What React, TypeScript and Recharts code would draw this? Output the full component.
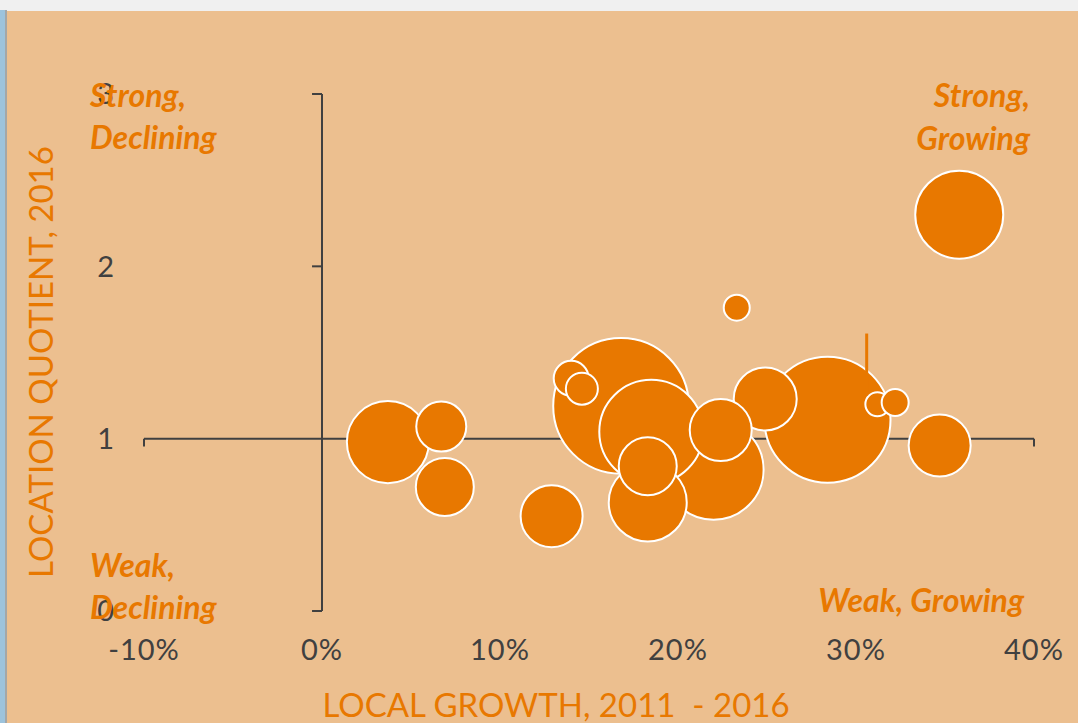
import React from 'react';
import {
  ScatterChart, Scatter, XAxis, YAxis, ZAxis, ReferenceLine,
} from 'recharts';

// local growth 2011-2016 (%), location quotient 2016, bubble size (employment-ish)
const growth = [3.7, 6.7, 6.9, 12.9, 16.8, 14.0, 14.6, 22.0, 18.5, 18.3, 18.3, 28.4, 24.9, 22.4, 31.2, 32.2, 34.7, 23.3, 35.8];
const quotient = [0.98, 1.07, 0.72, 0.55, 1.19, 1.35, 1.29, 0.82, 1.04, 0.63, 0.84, 1.11, 1.23, 1.05, 1.2, 1.21, 0.96, 1.76, 2.3];
const sizes = [1681, 625, 841, 961, 4600, 306, 256, 2500, 2704, 1521, 841, 3969, 992, 961, 144, 182, 961, 169, 1936];

const xTicks = [-10, 0, 10, 20, 30, 40];
const yTicks = [0, 1, 2, 3];

const ORANGE = '#E87800';
const AXIS = '#404040';
const BG = '#ECBF8F';
const FONT = 'Lato, "Noto Sans", sans-serif';

const data = growth.map((g, i) => ({ x: g, y: quotient[i], z: sizes[i] }));

const W = 1078;
const H = 723;

const tickStyle = { fontSize: 29, fill: AXIS, fontFamily: FONT, letterSpacing: 1 };

export default function App() {
  return (
    <div style={{ position: 'fixed', left: 0, top: 0, width: W, height: H, background: '#F0F0F0', overflow: 'hidden' }}>
      <div style={{ position: 'absolute', left: 0, top: 10, width: 5, height: H - 10, background: '#9DC3DC' }} />
      <div style={{ position: 'absolute', left: 5, top: 10, width: 2, height: H - 10, background: '#A3A7A8' }} />
      <div style={{ position: 'absolute', left: 7, top: 11, width: W - 7, height: H - 11, background: BG }} />

      <div style={{ position: 'absolute', left: 0, top: 0 }}>
        <ScatterChart width={W} height={H} margin={{ top: 94, right: 44, bottom: 62, left: 84 }}>
          <XAxis
            type="number"
            dataKey="x"
            domain={[-10, 40]}
            ticks={xTicks}
            tickFormatter={(v: number) => `${v}%`}
            axisLine={false}
            tickLine={false}
            tickSize={0}
            tickMargin={28}
            height={50}
            tick={tickStyle}
          />
          <YAxis
            type="number"
            dataKey="y"
            domain={[0, 3]}
            ticks={yTicks}
            axisLine={false}
            tickLine={false}
            tickSize={0}
            tickMargin={29}
            width={60}
            tick={tickStyle}
          />
          <ZAxis type="number" dataKey="z" domain={[0, 5000]} range={[0, 5000 * Math.PI]} />

          {/* axes crossing at (0%, 1) */}
          <ReferenceLine segment={[{ x: -10, y: 1 }, { x: 40, y: 1 }]} stroke={AXIS} strokeWidth={2} zIndex={100} />
          <ReferenceLine segment={[{ x: -10, y: 1 }, { x: -10, y: 0.955 }]} stroke={AXIS} strokeWidth={2} zIndex={100} />
          <ReferenceLine segment={[{ x: 40, y: 1 }, { x: 40, y: 0.955 }]} stroke={AXIS} strokeWidth={2} zIndex={100} />
          <ReferenceLine segment={[{ x: 0, y: 0 }, { x: 0, y: 3 }]} stroke={AXIS} strokeWidth={2} zIndex={100} />
          {[0, 2, 3].map((t) => (
            <ReferenceLine key={t} segment={[{ x: 0, y: t }, { x: -0.56, y: t }]} stroke={AXIS} strokeWidth={2} zIndex={100} />
          ))}

          <Scatter data={data} fill={ORANGE} stroke="#FFFFFF" strokeWidth={2} isAnimationActive={false} />

          <ReferenceLine segment={[{ x: 30.6, y: 1.61 }, { x: 30.6, y: 1.25 }]} stroke={ORANGE} strokeWidth={3} zIndex={700} />
        </ScatterChart>
      </div>

      <svg width={W} height={H} style={{ position: 'absolute', left: 0, top: 0, pointerEvents: 'none' }}>
        <g fontFamily={FONT} fill={ORANGE}>
          <text x={53} y={362} fontSize={33} textAnchor="middle" transform="rotate(-90 53 362)">
            LOCATION QUOTIENT, 2016
          </text>
          <text x={556} y={717} fontSize={33} textAnchor="middle" style={{ whiteSpace: 'pre' }}>
            LOCAL GROWTH, 2011  - 2016
          </text>
          <g fontSize={32} fontWeight="bold" fontStyle="italic">
            <text x={90} y={107}>Strong,</text>
            <text x={90} y={149}>Declining</text>
            <text x={1030} y={107} textAnchor="end">Strong,</text>
            <text x={1030} y={150} textAnchor="end">Growing</text>
            <text x={90} y={577}>Weak,</text>
            <text x={90} y={619}>Declining</text>
            <text x={1024} y={612} textAnchor="end">Weak, Growing</text>
          </g>
        </g>
      </svg>
    </div>
  );
}
